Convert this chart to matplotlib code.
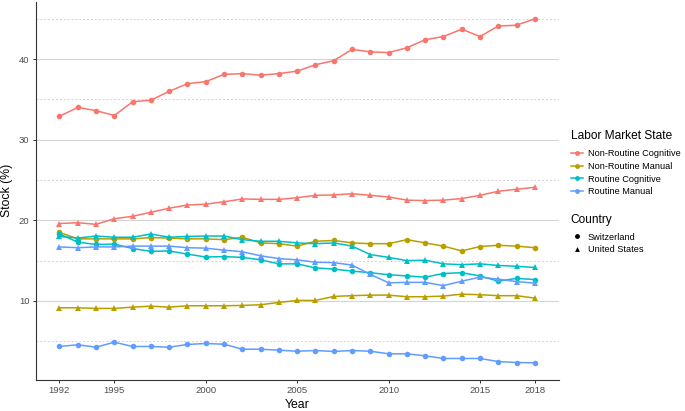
import matplotlib
matplotlib.use("Agg")
import matplotlib.pyplot as plt
from matplotlib.lines import Line2D

plt.rcParams['font.family'] = ['Liberation Sans', 'DejaVu Sans']

# --- data ---
years = list(range(1992, 2019))

states = ['Non-Routine Cognitive', 'Non-Routine Manual', 'Routine Cognitive', 'Routine Manual']
state_colors = ['#F8766D', '#B79F00', '#00BFC4', '#619CFF']

nrc_ch = [32.9, 34.0, 33.6, 33.0, 34.7, 34.9, 36.0, 36.95, 37.2, 38.1, 38.2, 38.0, 38.2, 38.5,
          39.3, 39.8, 41.2, 40.9, 40.8, 41.4, 42.4, 42.8, 43.7, 42.8, 44.1, 44.2, 45.0]
nrc_us = [19.6, 19.7, 19.5, 20.2, 20.5, 21.0, 21.5, 21.9, 22.0, 22.3, 22.65, 22.6, 22.6, 22.8,
          23.1, 23.15, 23.3, 23.1, 22.9, 22.5, 22.45, 22.5, 22.7, 23.1, 23.6, 23.85, 24.1]
nrm_ch = [18.5, 17.7, 17.7, 17.7, 17.7, 17.85, 17.8, 17.7, 17.7, 17.6, 17.9, 17.2, 17.1, 16.8,
          17.4, 17.5, 17.2, 17.1, 17.1, 17.6, 17.2, 16.8, 16.2, 16.75, 16.9, 16.8, 16.6]
nrm_us = [9.15, 9.15, 9.07, 9.07, 9.23, 9.35, 9.23, 9.4, 9.4, 9.4, 9.44, 9.53, 9.81, 10.06,
          10.06, 10.56, 10.65, 10.72, 10.72, 10.52, 10.52, 10.6, 10.84, 10.77, 10.65, 10.65, 10.35]
rc_ch = [18.3, 17.3, 17.0, 17.05, 16.5, 16.15, 16.2, 15.8, 15.45, 15.5, 15.4, 15.1, 14.6, 14.6,
         14.1, 13.95, 13.7, 13.5, 13.25, 13.1, 12.95, 13.4, 13.5, 13.1, 12.45, 12.8, 12.65]
rc_us = [18.0, 17.8, 18.05, 17.9, 17.9, 18.3, 17.9, 18.0, 18.05, 18.05, 17.6, 17.4, 17.4, 17.2,
         17.1, 17.2, 16.8, 15.75, 15.4, 15.0, 15.05, 14.6, 14.5, 14.6, 14.4, 14.3, 14.15]
rm_ch = [4.35, 4.56, 4.26, 4.88, 4.35, 4.35, 4.26, 4.6, 4.72, 4.63, 4.01, 4.01, 3.89, 3.76,
         3.85, 3.73, 3.85, 3.76, 3.44, 3.44, 3.19, 2.86, 2.86, 2.86, 2.48, 2.36, 2.32]
rm_us = [16.7, 16.6, 16.7, 16.7, 16.8, 16.8, 16.8, 16.6, 16.55, 16.3, 16.1, 15.6, 15.25, 15.1,
         14.8, 14.75, 14.45, 13.3, 12.25, 12.3, 12.3, 11.9, 12.45, 12.95, 12.7, 12.4, 12.2]

switzerland = [nrc_ch, nrm_ch, rc_ch, rm_ch]
united_states = [nrc_us, nrm_us, rc_us, rm_us]

countries = ['Switzerland', 'United States']
country_markers = ['o', '^']

x_ticks = [1992, 1995, 2000, 2005, 2010, 2015, 2018]
y_ticks = [10, 20, 30, 40]
y_minor = [5, 15, 25, 35, 45]

# --- figure ---
fig = plt.figure(figsize=(6.85, 4.11), dpi=100)
ax = fig.add_axes([0.0521, 0.0754, 0.7634, 0.9207])

for series, marker in zip([switzerland, united_states], country_markers):
    for vals, col in zip(series, state_colors):
        ax.plot(years, vals, color=col, lw=1.1, marker=marker, ms=4.0,
                markeredgewidth=0, zorder=3)

ax.set_xlim(1990.7, 2019.3)
ax.set_ylim(0.19, 47.13)
ax.set_xticks(x_ticks)
ax.set_yticks(y_ticks)
ax.set_yticks(y_minor, minor=True)

ax.grid(axis='y', which='major', color='#d4d4d4', lw=0.8, zorder=0)
ax.grid(axis='y', which='minor', color='#d4d4d4', lw=0.7, ls=(0, (2, 2)), zorder=0)
ax.tick_params(axis='y', which='minor', length=0)
ax.tick_params(which='major', length=2.5, width=0.7, color='#333333',
               labelsize=6.8, labelcolor='#4d4d4d', pad=2)

for side in ['top', 'right']:
    ax.spines[side].set_visible(False)
for side in ['left', 'bottom']:
    ax.spines[side].set_color('#333333')
    ax.spines[side].set_linewidth(0.8)

ax.set_xlabel('Year', fontsize=8.8, labelpad=3)
ax.set_ylabel('Stock (%)', fontsize=8.8, labelpad=4)

# --- legends ---
state_handles = [Line2D([], [], color=c, lw=1.1, marker='o', ms=3.5, markeredgewidth=0)
                 for c in state_colors]
country_handles = [Line2D([], [], color='black', lw=0, marker=m, ms=3.5, markeredgewidth=0)
                   for m in country_markers]

leg1 = fig.legend(state_handles, states, title='Labor Market State',
                  loc='upper left', bbox_to_anchor=(0.833, 0.683),
                  frameon=False, fontsize=6.6, title_fontsize=8.6,
                  handlelength=1.3, handletextpad=0.6, labelspacing=0.4,
                  borderaxespad=0, borderpad=0)
leg1._legend_box.align = 'left'
leg1._legend_box.sep = 5

leg2 = fig.legend(country_handles, countries, title='Country',
                  loc='upper left', bbox_to_anchor=(0.833, 0.480),
                  frameon=False, fontsize=6.6, title_fontsize=8.6,
                  handlelength=1.3, handletextpad=0.6, labelspacing=0.4,
                  borderaxespad=0, borderpad=0)
leg2._legend_box.align = 'left'
leg2._legend_box.sep = 5

fig.savefig('out.png', dpi=100)
